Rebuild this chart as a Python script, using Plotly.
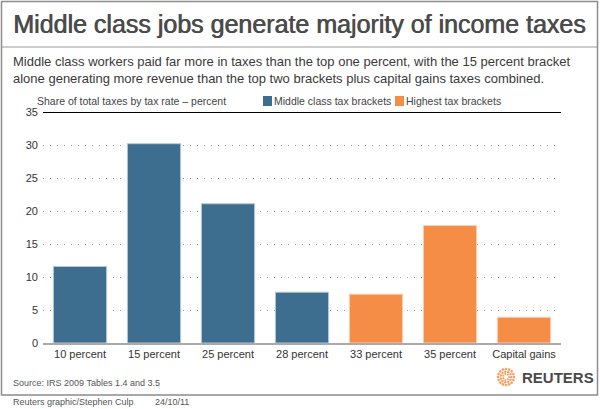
import math

import plotly.graph_objects as go

# data
middle_brackets = ['10 percent', '15 percent', '25 percent', '28 percent']
middle_share = [11.6, 30.2, 21.1, 7.7]
top_brackets = ['33 percent', '35 percent', 'Capital gains']
top_share = [7.4, 17.8, 3.9]
all_brackets = middle_brackets + top_brackets
y_ticks = [0, 5, 10, 15, 20, 25, 30, 35]

BLUE = '#3d6e90'
ORANGE = '#f68d46'
W, H = 600, 409
L, R, T, B = 43, 39, 112, 66


def px(x):
    # page pixel -> paper x
    return (x - L) / (W - L - R)


def py(y):
    # page pixel -> paper y
    return (H - B - y) / (H - T - B)


fig = go.Figure()
fig.add_trace(go.Bar(name='Middle class tax brackets', x=middle_brackets, y=middle_share,
                     marker_color=BLUE, marker_line=dict(color='#b9cad6', width=1)))
fig.add_trace(go.Bar(name='Highest tax brackets', x=top_brackets, y=top_share,
                     marker_color=ORANGE, marker_line=dict(color='#fbd2b5', width=1)))

shapes = [
    # outer frame
    dict(type='rect', xref='paper', yref='paper', x0=px(1.5), x1=px(597.5), y0=py(1.5), y1=py(395),
         line=dict(color='#8c8c8c', width=1.5)),
    # line under title
    dict(type='line', xref='paper', yref='paper', x0=px(1.5), x1=px(597.5), y0=py(47), y1=py(47),
         line=dict(color='#9a9a9a', width=1)),
    # black top rule at 35
    dict(type='line', xref='paper', yref='y', x0=0, x1=1, y0=35, y1=35,
         line=dict(color='black', width=2)),
    # legend swatches
    dict(type='rect', xref='paper', yref='paper', x0=px(263), x1=px(272), y0=py(96), y1=py(106),
         fillcolor=BLUE, line=dict(width=0)),
    dict(type='rect', xref='paper', yref='paper', x0=px(395), x1=px(404), y0=py(96), y1=py(106),
         fillcolor=ORANGE, line=dict(width=0)),
]

# reuters logo: rings of small orange dots
for radius, n, size in [(8, 16, 1.3), (5.3, 11, 1.2), (3, 7, 1.0)]:
    for i in range(n):
        a = 2 * math.pi * i / n
        cx, cy = 506 + radius * math.cos(a), 377 + radius * math.sin(a)
        shapes.append(dict(type='circle', xref='paper', yref='paper',
                           x0=px(cx - size), x1=px(cx + size), y0=py(cy - size), y1=py(cy + size),
                           fillcolor=ORANGE, line=dict(width=0), opacity=0.85))

font = 'Liberation Sans, Arial, sans-serif'


def note(text, x, y, size, color='#333333', family=font, xanchor='left'):
    return dict(text=text, x=px(x), y=py(y), xref='paper', yref='paper', showarrow=False,
                xanchor=xanchor, yanchor='middle', align='left',
                font=dict(size=size, color=color, family=family))


title = note('Middle class jobs generate majority of income taxes', 11, 24, 25, '#4b4b4b')
# a thin shadow thickens the regular face a little, closer to the medium-weight original
title['font']['shadow'] = '0.7px 0px 0px #4b4b4b'

annotations = [
    title,
    note('Middle class workers paid far more in taxes than the top one percent, with the 15 percent bracket'
         '<br>alone generating more revenue than the top two brackets plus capital gains taxes combined.',
         11, 70, 13, '#3a3a3a'),
    note('Share of total taxes by tax rate \u2013 percent', 35, 101, 10.5, '#444444'),
    note('Middle class tax brackets', 272, 101, 10.5, '#444444'),
    note('Highest tax brackets', 404, 101, 10.5, '#444444'),
    note('Source: IRS 2009 Tables 1.4 and 3.5', 11, 383, 9, '#555555'),
    note('<b>REUTERS</b>', 520, 377, 15, '#4a4a4a'),
    note('Reuters graphic/Stephen Culp', 11, 402, 9, '#555555'),
    note('24/10/11', 153, 402, 9, '#555555'),
]

fig.update_layout(
    width=W, height=H,
    margin=dict(l=L, r=R, t=T, b=B),
    paper_bgcolor='white', plot_bgcolor='white',
    barmode='overlay', bargap=0.28,
    showlegend=False,
    font=dict(family=font, size=11, color='#333333'),
    shapes=shapes,
    annotations=annotations,
)
fig.update_xaxes(categoryorder='array', categoryarray=all_brackets,
                 showline=True, linecolor='#aaaaaa', linewidth=1.5,
                 ticks='', tickfont=dict(size=11, color='#333333'), fixedrange=True)
fig.update_yaxes(range=[0, 35], tickvals=y_ticks, showgrid=True, gridcolor='#9a9a9a', gridwidth=1,
                 griddash='1px,6px', zeroline=False, ticks='', ticklabelstandoff=4,
                 tickfont=dict(size=11, color='#333333'), fixedrange=True)

# page body has a default 8px margin; drop it so the figure sits at the window origin
fig.write_html('out.html', config={'displayModeBar': False},
               post_script="document.body.style.margin='0';")
